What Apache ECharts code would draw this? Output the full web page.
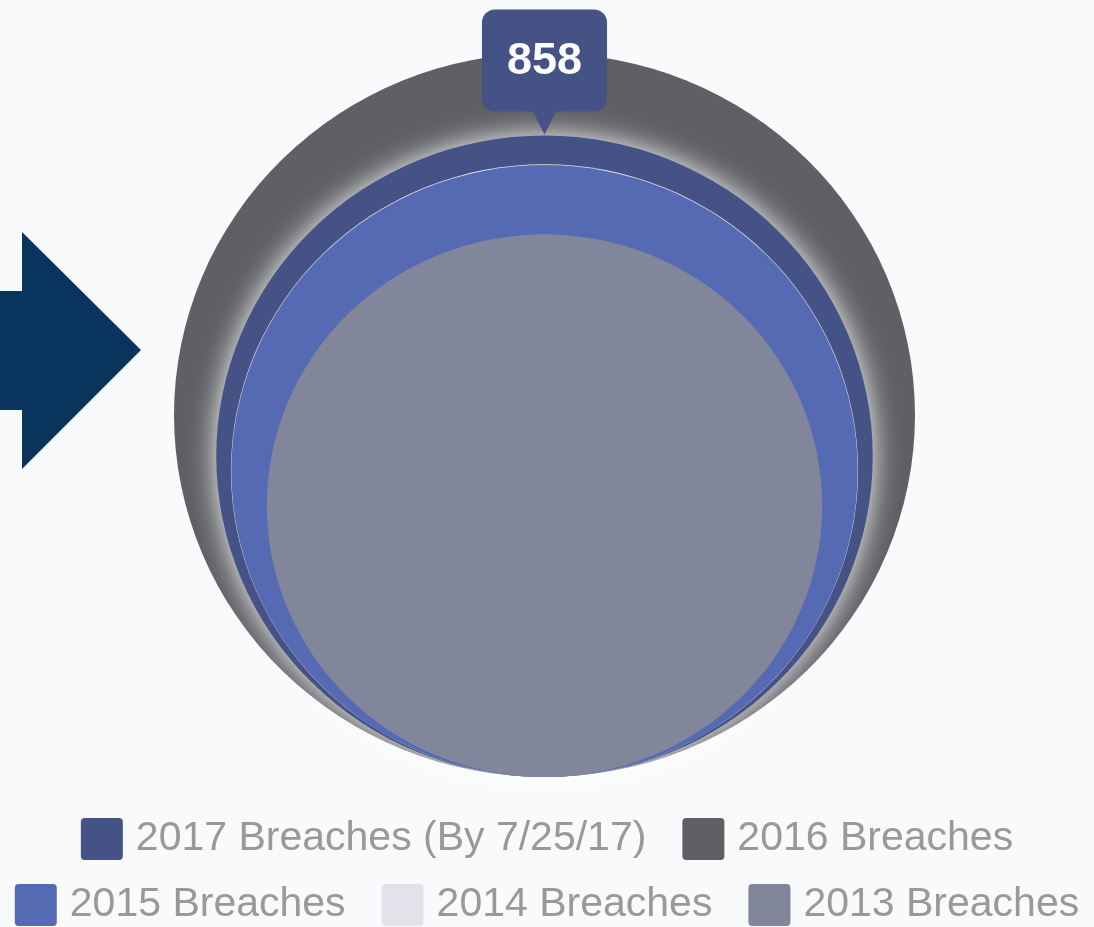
<!DOCTYPE html>
<html><head><meta charset="utf-8">
<script src="https://cdn.jsdelivr.net/npm/echarts@6/dist/echarts.min.js"></script>
<style>html,body{margin:0;padding:0;background:#f9fafb}#chart{width:1094px;height:927px}</style>
</head><body><div id="chart"></div>
<script>
// Data
const categories = ['2017 Breaches (By 7/25/17)', '2016 Breaches', '2015 Breaches', '2014 Breaches', '2013 Breaches'];
const breaches = [858, 1093, 781, 783, 614];
const colors = ['#445285', '#5f6064', '#566ab4', '#e2e3ea', '#81869b'];
const showValue = [true, false, false, false, false];
const glow = [true, false, false, false, false];
const legendRow1 = categories.slice(0, 2);
const legendRow2 = categories.slice(2);

const maxR = Math.sqrt(Math.max(...breaches));
const FONT = '"Liberation Sans", Arial, Helvetica, sans-serif';

function makeRender(idx) {
  return function (params, api) {
    const v = api.value(2);
    const r = Math.sqrt(v);
    const base = api.coord([api.value(0), api.value(1)]);
    const size = api.size([2 * r, 2 * r]);
    const rx = size[0] / 2, ry = size[1] / 2;
    const cy = base[1] - ry;
    const top = base[1] - size[1];
    const style = { fill: colors[idx] };
    if (glow[idx]) { style.shadowBlur = 28; style.shadowColor = 'rgba(255,255,255,0.97)'; }
    const children = [{
      type: 'circle', shape: { cx: 0, cy: 0, r: ry },
      x: base[0], y: cy, scaleX: rx / ry, style: style
    }];
    if (showValue[idx]) {
      children.push({
        type: 'polygon',
        shape: { points: [[base[0] - 12, top - 25], [base[0] + 12, top - 25], [base[0], top - 1]] },
        style: { fill: colors[idx] }
      });
      children.push({
        type: 'text', x: base[0], y: top - 24,
        style: {
          text: String(v), fill: '#ffffff', font: 'bold 45px ' + FONT,
          align: 'center', verticalAlign: 'bottom',
          backgroundColor: colors[idx], padding: [30, 25, 27, 25], borderRadius: 13
        }
      });
    }
    return { type: 'group', children: children };
  };
}

const series = categories.map((name, i) => ({
  name: name,
  type: 'custom',
  coordinateSystem: 'cartesian2d',
  renderItem: makeRender(i),
  itemStyle: { color: colors[i] },
  encode: { x: 0, y: 1 },
  z: 2 + breaches.filter(b => b > breaches[i]).length,
  silent: true,
  data: [[0, 0, breaches[i]]]
}));

const iconPath = 'path://M4,0 H38 A4,4 0 0 1 42,4 V38 A4,4 0 0 1 38,42 H4 A4,4 0 0 1 0,38 V4 A4,4 0 0 1 4,0 Z';
const legendBase = {
  left: 'center', orient: 'horizontal', itemWidth: 42, itemHeight: 42, itemGap: 36,
  icon: iconPath, selectedMode: false,
  textStyle: { fontSize: 41, color: '#999999', fontFamily: FONT, padding: [0, 0, 0, 8] }
};

const option = {
  animation: false,
  backgroundColor: '#f9fafb',
  grid: { left: 174, right: 179, top: 53, bottom: 150 },
  xAxis: { type: 'value', min: -maxR, max: maxR, show: false },
  yAxis: { type: 'value', min: 0, max: 2 * maxR, show: false },
  legend: [
    Object.assign({}, legendBase, { data: legendRow1, top: 813 }),
    Object.assign({}, legendBase, { data: legendRow2, top: 879 })
  ],
  graphic: [{
    type: 'polygon', silent: true,
    shape: { points: [[0, 291], [22, 291], [22, 232], [141, 350], [22, 469], [22, 410], [0, 410]] },
    style: { fill: '#08345e' }
  }],
  series: series
};

const chart = echarts.init(document.getElementById('chart'));
chart.setOption(option);
</script>
</body></html>
